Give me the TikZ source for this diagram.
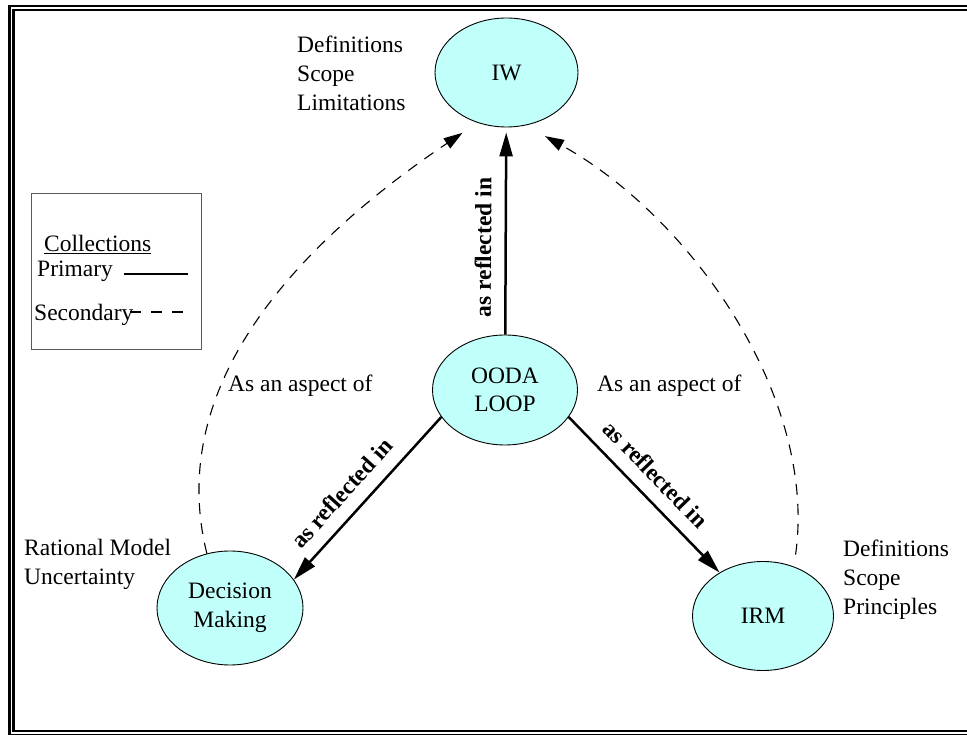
\documentclass[tikz,border=0pt]{standalone}
\usepackage{fontspec}
\setmainfont{Liberation Serif}
\usetikzlibrary{shapes.geometric,arrows.meta}
\definecolor{bubble}{RGB}{192,255,250}
\definecolor{legendgray}{RGB}{90,90,90}
\begin{document}
\begin{tikzpicture}[x=1pt,y=1pt,
  txt/.style={font=\fontsize{23.5}{29}\selectfont, inner sep=0pt},
  topic/.style={ellipse, draw=black, line width=0.9pt, fill=bubble, inner sep=0pt,
    align=center, font=\fontsize{23.5}{28.5}\selectfont},
  primary/.style={line width=2.5pt, -{Triangle[length=24pt,width=13pt]}},
  secondary/.style={line width=1.1pt, dash pattern=on 11pt off 9pt,
    -{Triangle[length=19pt,width=12pt]}},
  relabel/.style={font=\fontsize{23.5}{28}\selectfont\bfseries, inner sep=0pt,
    sloped, above=13pt},
  frame/.style={line width=2.6pt},
  note/.style={txt, align=left, anchor=north west}
]
\useasboundingbox (0,0) rectangle (967,734);
\clip (0,0) rectangle (967,734);

% double page frame
\draw[frame] (9.5,-1) rectangle (975,728);
\draw[frame] (13.5,3) rectangle (971,724);

% topics
\node[topic, minimum width=143pt, minimum height=109pt] (iw)   at (506.5,661.5) {IW};
\node[topic, minimum width=145pt, minimum height=110pt] (ooda) at (505,344) {OODA\\LOOP};
\node[topic, minimum width=146pt, minimum height=114pt] (dm)   at (230,126) {Decision\\Making};
\node[topic, minimum width=141pt, minimum height=109pt] (irm)  at (763,118) {IRM};

% side notes
\node[note] (iwnote)  at (297,698) {Definitions\\Scope\\Limitations};
\node[note] (dmnote)  at (24,195)  {Rational Model\\Uncertainty};
\node[note] (irmnote) at (843,194) {Definitions\\Scope\\Principles};
\node[txt, anchor=base west] (aspl) at (228,342) {As an aspect of};
\node[txt, anchor=base west] (aspr) at (597,342) {As an aspect of};

% legend
\draw[legendgray, line width=1pt] (31,540) rectangle (201,384);
\node[txt, anchor=base west] (coll) at (44,482) {\underline{Collections}};
\node[txt, anchor=base west] (prim) at (37,457) {Primary};
\node[txt, anchor=base west] (sec)  at (34,413) {Secondary};
\draw[line width=2.3pt] (124,460) -- (188,460);
\draw[line width=2.3pt, dash pattern=on 11pt off 10pt] (130,422) -- (183,422);

% primary collections
\draw[primary, shorten >=5pt] (ooda) -- (iw)
  node[relabel, pos=0.42] {as reflected in};
\draw[primary] (ooda.203) -- (dm.24)
  node[relabel, pos=0.56] {as reflected in};
\draw[primary] (ooda.337) -- (irm.135)
  node[relabel, pos=0.47] {as reflected in};

% secondary collections
\draw[secondary, shorten >=18pt] (dm.113)
  .. controls +(104:180) and +(214:205) .. (iw.240);
\draw[secondary, shorten <=12pt, shorten >=22pt] (irm.58)
  .. controls +(82:170) and +(331:190) .. (iw.290);
\end{tikzpicture}
\end{document}
